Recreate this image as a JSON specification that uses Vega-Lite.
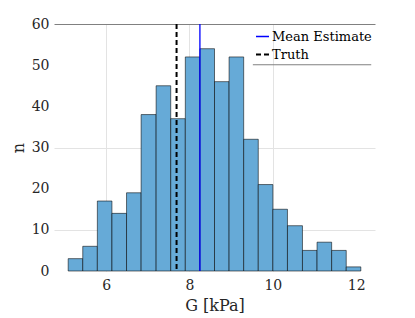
{
  "$schema": "https://vega.github.io/schema/vega-lite/v6.json",
  "width": 321,
  "height": 247,
  "autosize": "none",
  "padding": {"left": 54, "top": 24, "right": 40, "bottom": 47},
  "config": {
    "font": "DejaVu Serif",
    "view": {"stroke": null},
    "axis": {"labelColor": "#262626", "titleColor": "#262626", "labelFont": "DejaVu Serif", "titleFont": "DejaVu Serif", "titleFontWeight": "normal"},
    "legend": {"labelFont": "DejaVu Serif"}
  },
  "layer": [
    {
      "data": {"values": [
        {"start": 5.09, "end": 5.44, "n": 3},
        {"start": 5.44, "end": 5.79, "n": 6},
        {"start": 5.79, "end": 6.14, "n": 17},
        {"start": 6.14, "end": 6.49, "n": 14},
        {"start": 6.49, "end": 6.84, "n": 19},
        {"start": 6.84, "end": 7.2, "n": 38},
        {"start": 7.2, "end": 7.55, "n": 45},
        {"start": 7.55, "end": 7.9, "n": 37},
        {"start": 7.9, "end": 8.25, "n": 52},
        {"start": 8.25, "end": 8.6, "n": 54},
        {"start": 8.6, "end": 8.95, "n": 46},
        {"start": 8.95, "end": 9.3, "n": 52},
        {"start": 9.3, "end": 9.65, "n": 32},
        {"start": 9.65, "end": 10.0, "n": 21},
        {"start": 10.0, "end": 10.35, "n": 15},
        {"start": 10.35, "end": 10.71, "n": 11},
        {"start": 10.71, "end": 11.06, "n": 5},
        {"start": 11.06, "end": 11.41, "n": 7},
        {"start": 11.41, "end": 11.76, "n": 5},
        {"start": 11.76, "end": 12.11, "n": 1}
      ]},
      "mark": {"type": "bar", "fill": "#66aad7", "stroke": "#000000", "strokeOpacity": 0.55, "strokeWidth": 1, "orient": "vertical"},
      "encoding": {
        "x": {
          "field": "start", "type": "quantitative",
          "scale": {"domain": [4.75, 12.45], "nice": false, "zero": false, "padding": 0},
          "axis": {
            "title": "G [kPa]", "titleFontSize": 16, "titlePadding": 5,
            "values": [6, 8, 10, 12], "labelFontSize": 14, "labelPadding": 7,
            "domain": false, "ticks": false, "grid": true, "gridColor": "#e3e3e3",
            "gridOpacity": {"condition": {"test": "datum.value === 12", "value": 0}, "value": 1}
          }
        },
        "x2": {"field": "end"},
        "y": {
          "field": "n", "type": "quantitative",
          "scale": {"domain": [0, 60], "nice": false, "padding": 0},
          "axis": {
            "title": "n", "titleFontSize": 16, "titlePadding": 5,
            "values": [0, 10, 20, 30, 40, 50, 60], "labelFontSize": 14, "labelPadding": 5,
            "domain": false, "ticks": false, "grid": true,
            "gridColor": {"condition": {"test": "datum.value === 60", "value": "#808080"}, "value": "#e3e3e3"},
            "gridOpacity": {"condition": {"test": "datum.value === 10 || datum.value === 30 || datum.value === 60", "value": 1}, "value": 0}
          }
        },
        "y2": {"datum": 0}
      }
    },
    {
      "data": {"values": [
        {"label": "Mean Estimate", "value": 8.25},
        {"label": "Truth", "value": 7.69}
      ]},
      "mark": {"type": "rule"},
      "encoding": {
        "x": {"field": "value", "type": "quantitative"},
        "color": {
          "field": "label", "type": "nominal",
          "scale": {"domain": ["Mean Estimate", "Truth"], "range": ["#0000ff", "#000000"]},
          "legend": {"orient": "none", "legendX": 201, "legendY": 5, "title": null, "symbolType": "stroke", "symbolSize": 169, "symbolStrokeWidth": 1.5, "labelFontSize": 13, "labelOffset": 2, "rowPadding": 3, "labelColor": "#000000"}
        },
        "strokeDash": {
          "field": "label", "type": "nominal",
          "scale": {"domain": ["Mean Estimate", "Truth"], "range": [[1, 0], [5, 3]]},
          "legend": {"orient": "none", "legendX": 201, "legendY": 5, "title": null, "symbolType": "stroke", "symbolSize": 169, "symbolStrokeWidth": 1.5, "labelFontSize": 13, "labelOffset": 2, "rowPadding": 3, "labelColor": "#000000"}
        },
        "strokeWidth": {
          "field": "label", "type": "nominal",
          "scale": {"domain": ["Mean Estimate", "Truth"], "range": [1.3, 2]},
          "legend": null
        }
      }
    },
    {
      "data": {"values": [{}]},
      "mark": {"type": "rule", "color": "#808080", "strokeWidth": 1},
      "encoding": {
        "x": {"datum": 9.52},
        "x2": {"datum": 12.36},
        "y": {"datum": 50.1}
      }
    }
  ]
}
